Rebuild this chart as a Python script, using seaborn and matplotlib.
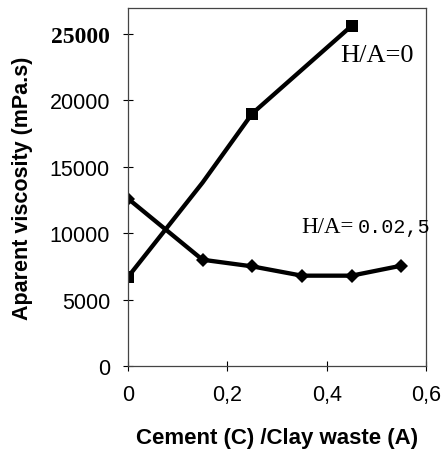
import matplotlib
matplotlib.use("Agg")
import matplotlib.pyplot as plt
import seaborn as sns
import pandas as pd

# Apparent viscosity vs cement / clay-waste ratio
ratio_h0 = [0.0, 0.15, 0.25, 0.45]
visc_h0 = [6700, 13800, 19000, 25600]
ratio_h025 = [0.0, 0.15, 0.25, 0.35, 0.45, 0.55]
visc_h025 = [12600, 8000, 7500, 6800, 6800, 7550]

x_ticks = [0, 0.2, 0.4, 0.6]
x_tick_labels = ["0", "0,2", "0,4", "0,6"]
y_ticks = [0, 5000, 10000, 15000, 20000, 25000]
y_tick_labels = ["0", "5000", "10000", "15000", "20000", "25000"]

sns.set_style("ticks")
plt.rcParams["font.family"] = ["Liberation Sans", "DejaVu Sans"]
plt.rcParams["text.color"] = "black"
plt.rcParams["axes.labelcolor"] = "black"

fig = plt.figure(figsize=(4.43, 4.52), dpi=100)
ax = fig.add_axes([128 / 443, 1 - 367 / 452, (426 - 128) / 443, (367 - 9) / 452])

df0 = pd.DataFrame({"ratio": ratio_h0, "visc": visc_h0})
df1 = pd.DataFrame({"ratio": ratio_h025, "visc": visc_h025})

sns.lineplot(data=df0, x="ratio", y="visc", ax=ax, color="black", lw=3.1,
             marker="s", markersize=8.5, markevery=[0, 2, 3], markeredgewidth=0)
sns.lineplot(data=df1, x="ratio", y="visc", ax=ax, color="black", lw=3.1,
             marker="D", markersize=7, markeredgewidth=0)

ax.set_xlim(0, 0.6)
ax.set_ylim(0, 26950)
ax.set_xticks(x_ticks)
ax.set_xticklabels(x_tick_labels)
ax.set_yticks(y_ticks)
ax.set_yticklabels(y_tick_labels)
ax.tick_params(axis="both", direction="inout", length=7, width=0.8,
               labelsize=15.5, colors="black", bottom=True, left=True)
ax.tick_params(axis="x", pad=9.5)
ax.tick_params(axis="y", pad=9.5)

top_label = ax.get_yticklabels()[-1]
top_label.set_fontfamily("Liberation Serif")
top_label.set_fontweight("bold")
top_label.set_fontsize(17)

for s in ax.spines.values():
    s.set_visible(True)
    s.set_color("#444444")
    s.set_linewidth(0.9)

ax.set_xlabel("Cement (C) /Clay waste (A)", fontsize=16, fontweight="bold",
              labelpad=16)
ax.set_ylabel("Aparent viscosity (mPa.s)", fontsize=15.5, fontweight="bold",
              labelpad=12)

ax.text(0.427, 23400, "H/A=0", fontsize=19, family="Liberation Serif",
        ha="left", va="center")
ax.text(0.348, 10500, "H/A=", fontsize=16.5, family="Liberation Serif",
        ha="left", va="center")
ax.text(0.463, 10500, "0.02,5", fontsize=14.5, family="Liberation Mono",
        ha="left", va="center", clip_on=False)

fig.savefig("out.png", dpi=100)
